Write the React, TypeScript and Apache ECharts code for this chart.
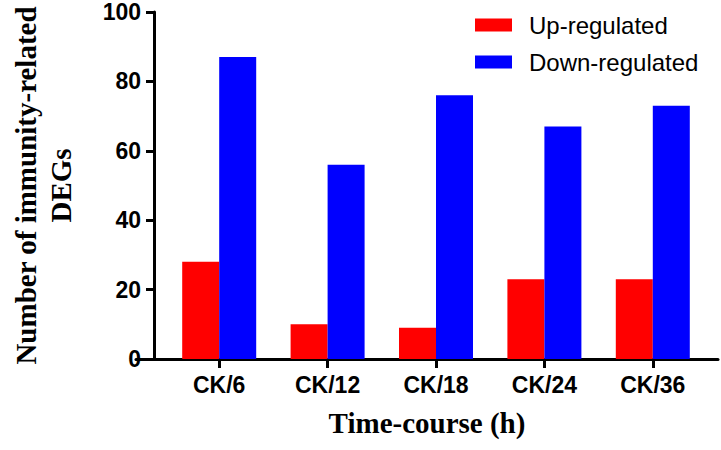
import React, { useEffect, useRef } from "react";
import * as echarts from "echarts";

const categories = ["CK/6", "CK/12", "CK/18", "CK/24", "CK/36"];
const upRegulated = [28, 10, 9, 23, 23];
const downRegulated = [87, 56, 76, 67, 73];

export default function App() {
  const ref = useRef<HTMLDivElement>(null);
  useEffect(() => {
    if (!ref.current) return;
    const chart = echarts.init(ref.current, null, { renderer: "svg" });
    const axisFont = { fontFamily: "Liberation Sans", fontWeight: "bold" as const, fontSize: 23, color: "#000" };
    chart.setOption({
      animation: false,
      backgroundColor: "#fff",
      grid: [
        { left: 147, right: 14, top: 12, bottom: 91, containLabel: false },
        { left: 136, right: 3, top: 12, bottom: 91, containLabel: false },
      ],
      legend: {
        orient: "vertical",
        left: 470,
        top: 8,
        itemWidth: 37,
        itemHeight: 13,
        itemGap: 13,
        icon: "rect",
        textStyle: { fontFamily: "Liberation Sans", fontSize: 24, color: "#000", lineHeight: 24, padding: [0, 0, 0, 12] },
        data: ["Up-regulated", "Down-regulated"],
      },
      xAxis: [
        {
          type: "category",
          gridIndex: 0,
          data: categories,
          boundaryGap: true,
          axisLine: { show: false },
          axisTick: { show: true, alignWithLabel: true, length: 9, lineStyle: { color: "#000", width: 3 } },
          axisLabel: { margin: 14, interval: 0, ...axisFont },
          splitLine: { show: false },
        },
        {
          type: "value",
          gridIndex: 1,
          min: 0,
          max: 1,
          axisLine: { show: true, onZero: false, lineStyle: { color: "#000", width: 3 } },
          axisTick: { show: false },
          axisLabel: { show: false },
          splitLine: { show: false },
          name: "Time-course (h)",
          nameLocation: "middle",
          nameGap: 49,
          nameTextStyle: { fontFamily: "Liberation Serif", fontWeight: "bold", fontSize: 29, color: "#000" },
        },
      ],
      yAxis: [
        {
          type: "value",
          gridIndex: 0,
          min: 0,
          max: 100,
          interval: 20,
          offset: 11,
          splitLine: { show: false },
          axisLine: { show: true, onZero: false, lineStyle: { color: "#000", width: 3 } },
          axisTick: { show: true, length: 8, lineStyle: { color: "#000", width: 3 } },
          axisLabel: { margin: 13, ...axisFont },
          name: "Number of immunity-related\nDEGs",
          nameLocation: "middle",
          nameRotate: 90,
          nameGap: 76,
          nameTextStyle: { fontFamily: "Liberation Serif", fontWeight: "bold", fontSize: 29, color: "#000", lineHeight: 35 },
        },
        {
          type: "value",
          gridIndex: 1,
          min: 0,
          max: 1,
          show: false,
        },
      ],
      series: [
        {
          name: "Up-regulated",
          type: "bar",
          xAxisIndex: 0,
          yAxisIndex: 0,
          barWidth: 37,
          barGap: "0%",
          itemStyle: { color: "#ff0000" },
          data: upRegulated,
        },
        {
          name: "Down-regulated",
          type: "bar",
          xAxisIndex: 0,
          yAxisIndex: 0,
          barWidth: 37,
          barGap: "0%",
          itemStyle: { color: "#0000ff" },
          data: downRegulated,
        },
      ],
    });
    return () => chart.dispose();
  }, []);
  return <div ref={ref} style={{ width: 721, height: 450, position: "absolute", left: 0, top: 0 }} />;
}
